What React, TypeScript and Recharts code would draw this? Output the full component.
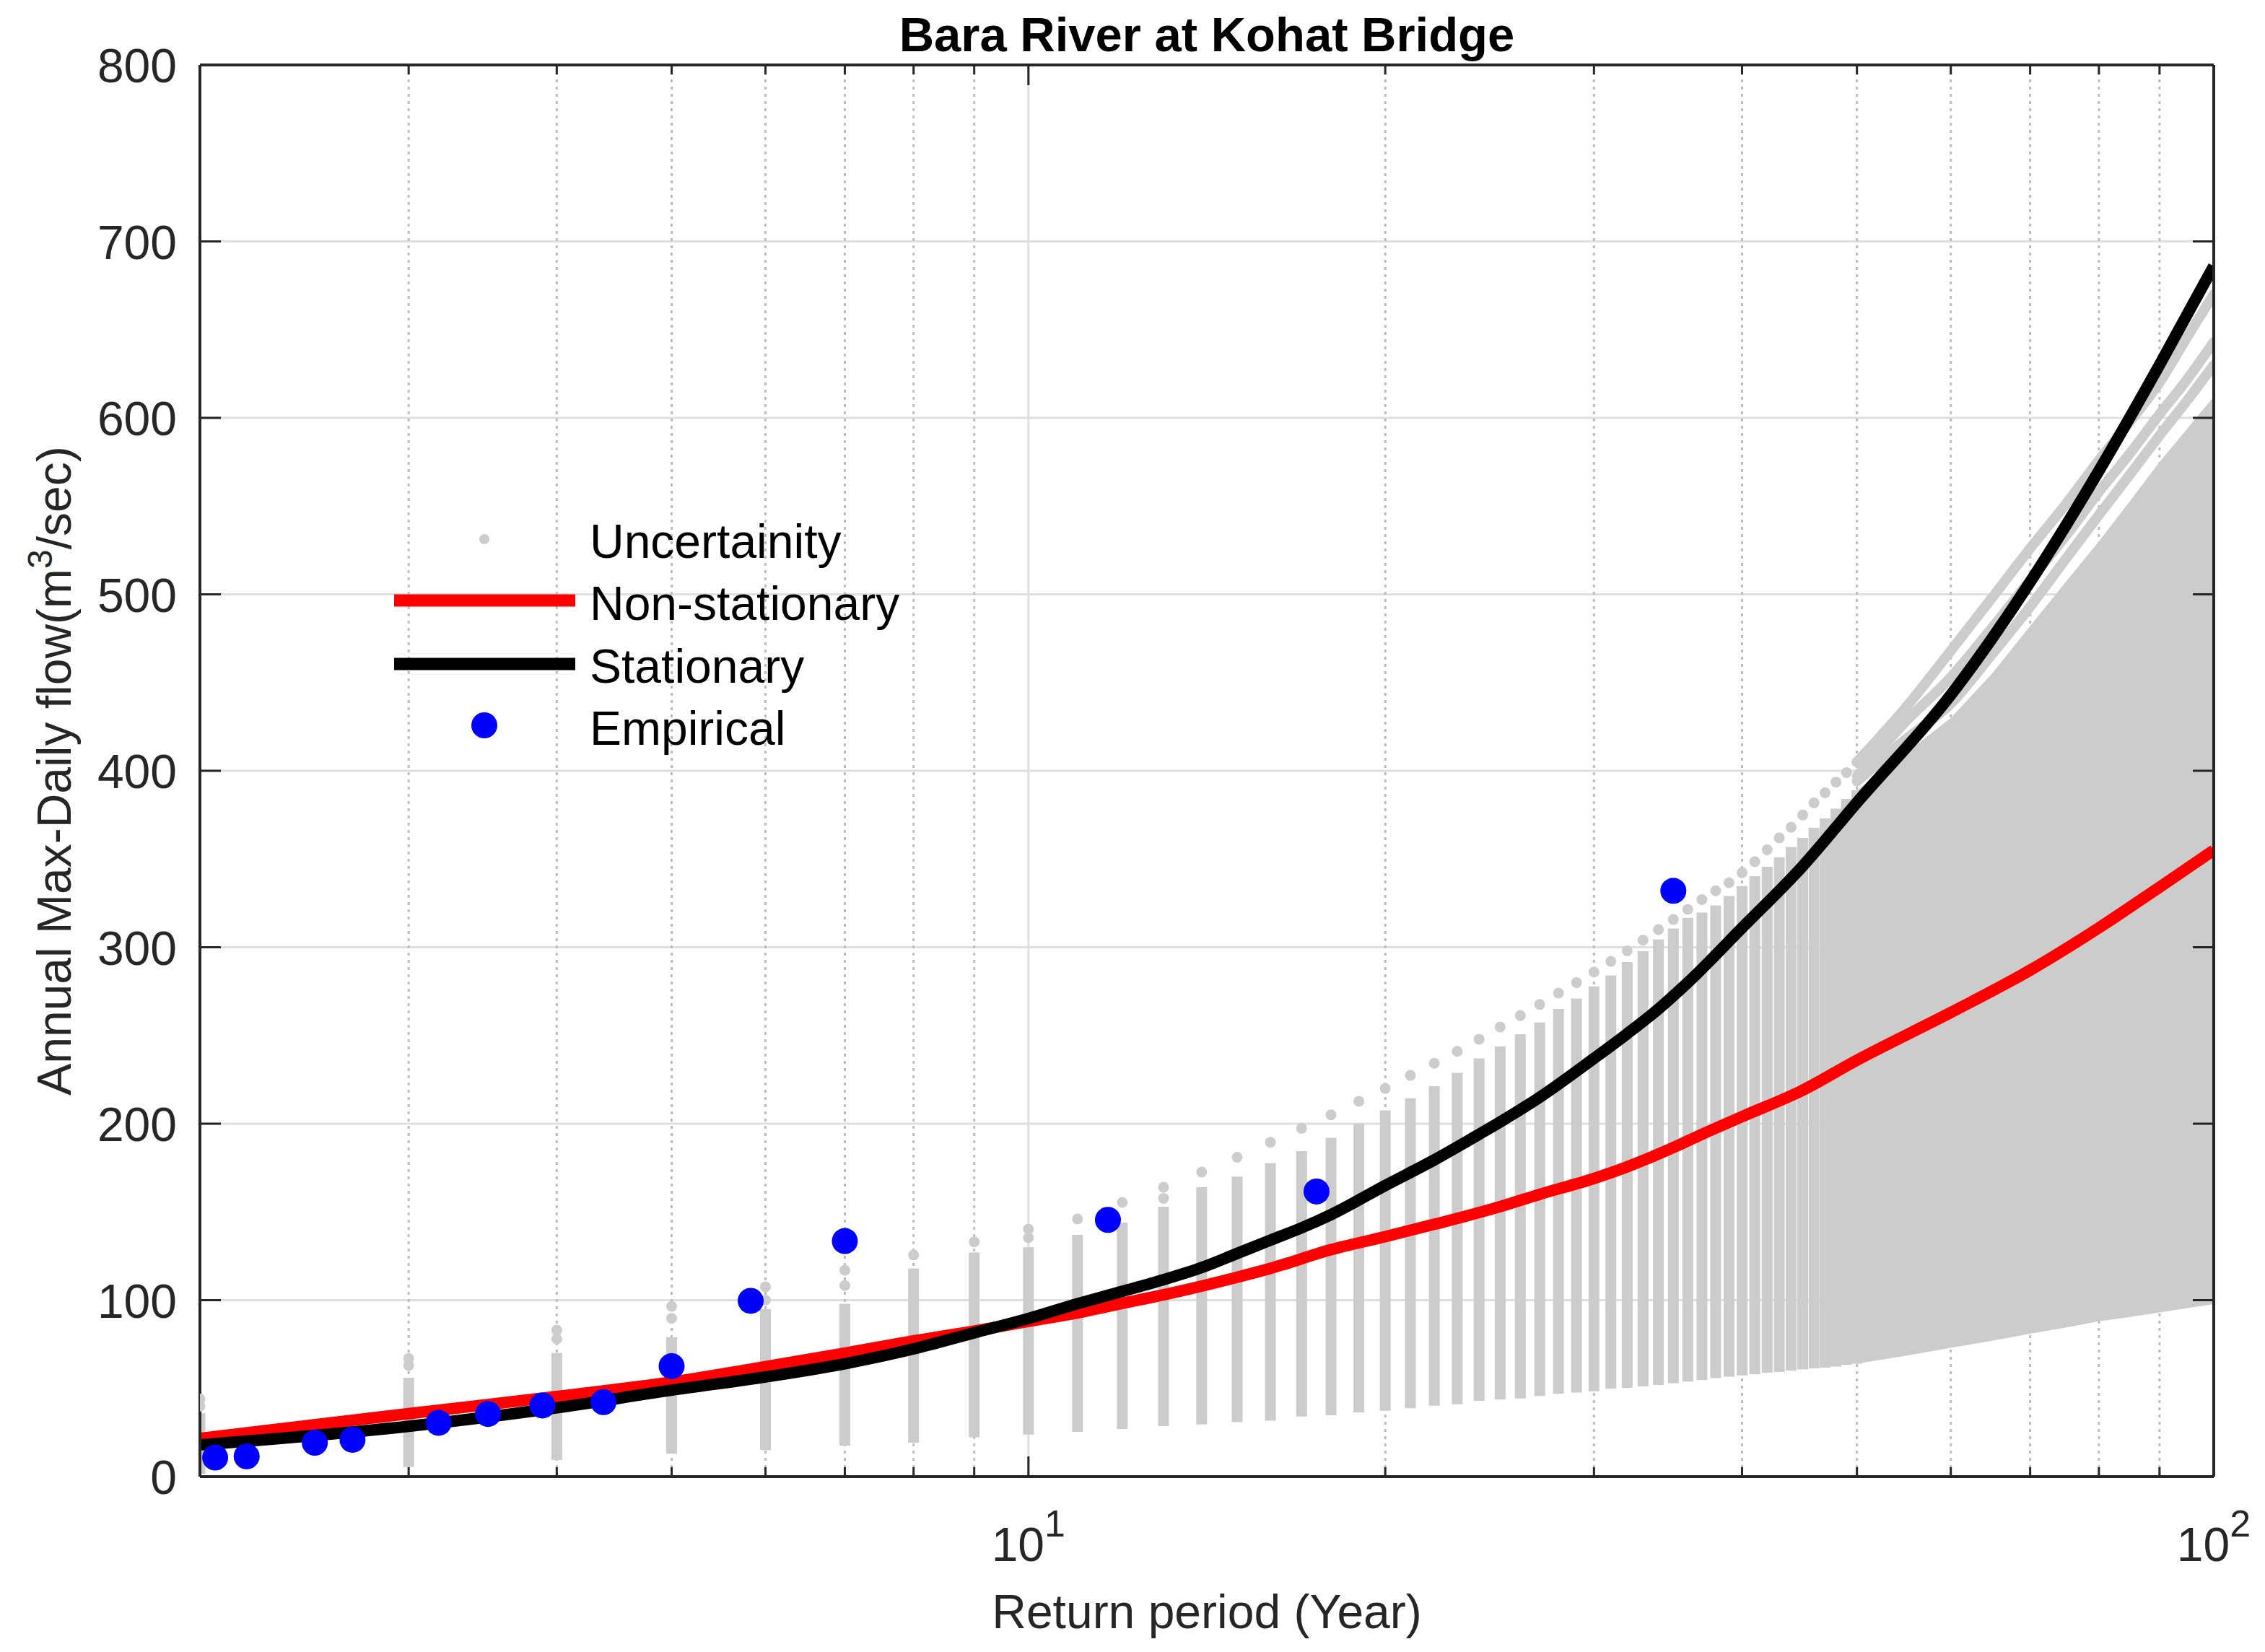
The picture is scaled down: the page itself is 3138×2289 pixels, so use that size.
import React from "react";
import {
  ComposedChart,
  Line,
  Area,
  Scatter,
  XAxis,
  YAxis,
  CartesianGrid,
  Legend,
  Label,
} from "recharts";

const W = 3138;
const H = 2289;
const GRAY = "#cccccc";
const RED = "#ff0000";
const BLACK = "#000000";
const BLUE = "#0000ff";
const AXIS = "#262626";
const FONT = '"Liberation Sans", Arial, Helvetica, sans-serif';

const X_TICKS = [3, 4, 5, 6, 7, 8, 9, 10, 20, 30, 40, 50, 60, 70, 80, 90, 100];
const MINOR_GRID = [3, 4, 5, 6, 7, 8, 9, 20, 30, 40, 50, 60, 70, 80, 90];
const MAJOR_GRID = [10];
const Y_TICKS = [0, 100, 200, 300, 400, 500, 600, 700, 800];

// bootstrap columns (return period, bottom, top of dense part, highest dot)
const COL_T = [
  2, 3, 4, 5, 6, 7, 8, 9, 10, 11, 12, 13, 14, 15, 16, 17, 18, 19, 20, 21, 22, 23, 24, 25, 26,
  27, 28, 29, 30, 31, 32, 33, 34, 35, 36, 37, 38, 39, 40, 41, 42, 43, 44, 45, 46, 47, 48, 49, 50,
];
const COL_LO = [
  1.5, 5.5, 9.4, 13, 15, 17.6, 19.2, 22.3, 23.8, 25.4, 27, 28.6, 29.5, 30.9, 31.7, 34, 34.8, 36.4,
  37.3, 38.8, 40.2, 41, 42.9, 43.8, 44.3, 45.7, 47, 47.6, 48.4, 49.9, 50.3, 51.1, 51.9, 53, 53.9,
  54.7, 55.8, 56.6, 57.4, 58, 58.9, 59.3, 60.1, 60.7, 61.3, 61.8, 62.4, 63.4, 64,
];
const COL_HI = [
  36, 56, 70, 79, 95, 98, 118, 127, 130, 137, 144, 153, 164, 170, 177.6, 184.5, 192, 200, 207.6,
  214.4, 221.3, 228.8, 237, 243.8, 250.7, 257.4, 265, 271, 277.8, 284, 291.6, 297.7, 304.4, 310.6,
  316.7, 319.6, 323.7, 329, 334.7, 340.3, 345.6, 351, 356.7, 362, 367.7, 373, 378.5, 384, 389,
];
const COL_TOP = [
  44, 67, 83, 96.5, 107.6, 117, 125.6, 133, 140.3, 146, 155.4, 164, 172.6, 181, 189.5, 197.4, 205,
  212.7, 220, 227.4, 234.3, 241, 247.9, 254.8, 261.3, 267.6, 274, 280, 286, 292, 298, 304, 310,
  315.7, 321.5, 327, 332, 336.6, 342.3, 348.5, 355.2, 362, 368, 375, 381.8, 387.5, 393.6, 399, 405,
];
const TOP2_T = [2, 3, 4, 5, 6, 7, 10, 13];
const TOP2_V = [40, 63, 78, 89.7, 100, 108.3, 135.4, 157.7];

// merged band for the long return periods
const BAND_T = [50, 55, 60, 65, 70, 75, 80, 85, 90, 95, 100];
const BAND_LO = [64, 68.5, 73, 77, 81, 84.5, 88, 90.5, 93, 95.5, 97.7];
const BAND_HI = [389, 410, 430, 455, 482, 507, 530, 553, 575, 594, 612];
const BAND_C3 = [394, 418, 438, 466, 493, 520, 545, 568, 590, 610, 630];
const BAND_C2 = [397, 428, 453, 481, 508, 533, 558, 580, 602, 622, 643];
const BAND_C1 = [405, 436, 468, 498, 526, 551, 576, 598, 620, 646, 670];

const STAT_T = [
  2, 3, 4, 5, 6, 7, 8, 9, 10, 11, 12, 13, 14, 15, 16, 17, 18, 20, 22, 24, 25, 27, 30, 32, 34, 36,
  40, 45, 50, 60, 70, 80, 90, 100,
];
const STAT_V = [
  18, 28.5, 39, 49, 56.5, 64, 72.4, 81.5, 89.6, 98, 105, 111.6, 118.5, 126.5, 134, 141, 148.5, 165,
  179.5, 194, 201, 215, 237, 251, 265, 280, 311, 346, 382, 443, 507, 570, 630, 686,
];
const NONSTAT_T = [
  2, 3, 4, 5, 6, 7, 8, 9, 10, 11, 12, 13, 15, 16, 18, 20, 22, 25, 27, 30, 32, 35, 37, 40, 45, 50,
  60, 70, 80, 90, 100,
];
const NONSTAT_V = [
  21.7, 35.7, 45.4, 53.6, 62.3, 70, 76.9, 82.5, 88, 92.8, 98.2, 103, 113, 118, 128.6, 136, 143, 153,
  160, 169, 175.6, 186.5, 194, 204, 219, 236, 263, 287, 311, 334, 355,
];
const EMP_T = [2.06, 2.19, 2.5, 2.69, 3.18, 3.5, 3.89, 4.38, 5, 5.83, 7, 11.67, 17.5, 35];
const EMP_V = [10.8, 11.5, 19.2, 20.9, 30.5, 35.5, 40.3, 42.2, 62.6, 99.6, 133.5, 145.5, 161.6, 332];

const topDots = COL_T.map((t, i) => ({ t, v: COL_TOP[i] }));
const top2Dots = TOP2_T.map((t, i) => ({ t, v: TOP2_V[i] }));
const bandData = BAND_T.map((t, i) => ({
  t,
  range: [BAND_LO[i], BAND_HI[i]],
  c1: BAND_C1[i],
  c2: BAND_C2[i],
  c3: BAND_C3[i],
}));
const statData = STAT_T.map((t, i) => ({ t, v: STAT_V[i] }));
const nonStatData = NONSTAT_T.map((t, i) => ({ t, v: NONSTAT_V[i] }));
const empData = EMP_T.map((t, i) => ({ t, v: EMP_V[i] }));

const scaleOf = (axis: any) => (v: number) => {
  const s = axis?.scale;
  if (typeof s === "function") return s(v);
  if (s && typeof s.map === "function") return s.map(v);
  return NaN;
};
const minorGen = ({ xAxis }: any) => MINOR_GRID.map(scaleOf(xAxis));
const majorGen = ({ xAxis }: any) => MAJOR_GRID.map(scaleOf(xAxis));

const isMajor = (v: number) => v === 10 || v === 100;

function BottomTick({ x, y, payload }: any) {
  const v = payload.value;
  return (
    <g>
      <line x1={x} y1={y} x2={x} y2={y - (isMajor(v) ? 28 : 13)} stroke={AXIS} strokeWidth={3} />
      {isMajor(v) && (
        <text x={x} y={y + 117} textAnchor="middle" fontSize={66} fill={AXIS} fontFamily={FONT}>
          10
          <tspan dy={-34} fontSize={52}>
            {v === 10 ? "1" : "2"}
          </tspan>
        </text>
      )}
    </g>
  );
}

function TopTick({ x, y, payload }: any) {
  const v = payload.value;
  return <line x1={x} y1={y} x2={x} y2={y + (isMajor(v) ? 28 : 13)} stroke={AXIS} strokeWidth={3} />;
}

function LeftTick({ x, y, payload }: any) {
  return (
    <g>
      <line x1={x} y1={y} x2={x + 29} y2={y} stroke={AXIS} strokeWidth={3} />
      <text x={x - 32} y={y + 24} textAnchor="end" fontSize={66} fill={AXIS} fontFamily={FONT}>
        {payload.value}
      </text>
    </g>
  );
}

function RightTick({ x, y }: any) {
  return <line x1={x} y1={y} x2={x - 29} y2={y} stroke={AXIS} strokeWidth={3} />;
}

const GrayDot = (p: any) => <circle cx={p.cx} cy={p.cy} r={7.5} fill={GRAY} />;
const BlueDot = (p: any) => <circle cx={p.cx} cy={p.cy} r={18} fill={BLUE} />;

function LegendBox() {
  const t = { fontFamily: FONT, fontSize: 66, fill: "#000000" };
  return (
    <svg width={760} height={400} style={{ display: "block" }}>
      <circle cx={131} cy={57} r={7} fill={GRAY} />
      <text x={277} y={83} {...t}>Uncertainity</text>
      <line x1={6} y1={142} x2={257} y2={142} stroke={RED} strokeWidth={17} />
      <text x={277} y={169} {...t}>Non-stationary</text>
      <line x1={6} y1={230} x2={257} y2={230} stroke={BLACK} strokeWidth={17} />
      <text x={277} y={256} {...t}>Stationary</text>
      <circle cx={131} cy={315} r={18} fill={BLUE} />
      <text x={277} y={342} {...t}>Empirical</text>
    </svg>
  );
}

// y-axis title and chart title, drawn in the left axis label slot
const AxisTitles = () => (
  <g>
    <text
      x={98}
      y={1068}
      transform="rotate(-90, 98, 1068)"
      textAnchor="middle"
      fontSize={66}
      fill={AXIS}
      fontFamily={FONT}
    >
      Annual Max-Daily flow(m
      <tspan dy={-26} fontSize={48}>
        3
      </tspan>
      <tspan dy={26}>/sec)</tspan>
    </text>
    <text
      x={1672}
      y={71}
      textAnchor="middle"
      fontSize={67}
      fontWeight="bold"
      fill="#000000"
      fontFamily={FONT}
    >
      Bara River at Kohat Bridge
    </text>
  </g>
);

export default function App() {
  return (
    <div style={{ width: W, height: H, background: "#fff" }}>
      <style>{"html,body{margin:0;padding:0;background:#fff}"}</style>
      <ComposedChart width={W} height={H} margin={{ top: 89, right: 70, bottom: 93, left: 0 }}>
        <CartesianGrid vertical={false} stroke="#dfdfdf" strokeWidth={3} />
        <CartesianGrid
          horizontal={false}
          stroke="#bdbdbd"
          strokeWidth={3}
          strokeDasharray="4 6"
          verticalCoordinatesGenerator={minorGen}
        />
        <CartesianGrid
          horizontal={false}
          stroke="#dfdfdf"
          strokeWidth={3}
          verticalCoordinatesGenerator={majorGen}
        />

        <Area
          data={bandData}
          dataKey="range"
          type="linear"
          fill={GRAY}
          fillOpacity={1}
          stroke="none"
          legendType="none"
          isAnimationActive={false}
        />
        {COL_T.map((t, i) => (
          <Line
            key={`col-${t}`}
            data={[
              { t, v: COL_LO[i] },
              { t, v: COL_HI[i] },
            ]}
            dataKey="v"
            stroke={GRAY}
            strokeWidth={15}
            strokeLinecap="butt"
            dot={false}
            activeDot={false}
            legendType="none"
            isAnimationActive={false}
          />
        ))}
        {["c3", "c2", "c1"].map((k) => (
          <Line
            key={k}
            data={bandData}
            dataKey={k}
            type="monotone"
            stroke={GRAY}
            strokeWidth={14}
            strokeLinecap="round"
            dot={false}
            activeDot={false}
            legendType="none"
            isAnimationActive={false}
          />
        ))}
        <Scatter data={topDots} dataKey="v" shape={GrayDot} legendType="none" isAnimationActive={false} />
        <Scatter data={top2Dots} dataKey="v" shape={GrayDot} legendType="none" isAnimationActive={false} />

        <Line
          data={nonStatData}
          dataKey="v"
          type="monotone"
          stroke={RED}
          strokeWidth={16}
          dot={false}
          activeDot={false}
          name="Non-stationary"
          isAnimationActive={false}
        />
        <Line
          data={statData}
          dataKey="v"
          type="monotone"
          stroke={BLACK}
          strokeWidth={16}
          dot={false}
          activeDot={false}
          name="Stationary"
          isAnimationActive={false}
        />
        <Scatter data={empData} dataKey="v" shape={BlueDot} name="Empirical" isAnimationActive={false} />

        <XAxis
          dataKey="t"
          type="number"
          scale="log"
          domain={[2, 100]}
          allowDataOverflow
          ticks={X_TICKS}
          interval={0}
          height={150}
          tickSize={0}
          tickMargin={0}
          tickLine={false}
          tick={<BottomTick />}
          axisLine={{ stroke: AXIS, strokeWidth: 4 }}
        >
          <Label
            content={() => (
              <text x={1672} y={2256} textAnchor="middle" fontSize={66} fill={AXIS} fontFamily={FONT}>
                Return period (Year)
              </text>
            )}
          />
        </XAxis>
        <XAxis
          xAxisId="top"
          orientation="top"
          dataKey="t"
          type="number"
          scale="log"
          domain={[2, 100]}
          allowDataOverflow
          ticks={X_TICKS}
          interval={0}
          height={1}
          tickSize={0}
          tickMargin={0}
          tickLine={false}
          tick={<TopTick />}
          axisLine={{ stroke: AXIS, strokeWidth: 4 }}
        />
        <YAxis
          type="number"
          domain={[0, 800]}
          allowDataOverflow
          ticks={Y_TICKS}
          interval={0}
          width={277}
          tickSize={0}
          tickMargin={0}
          tickLine={false}
          tick={<LeftTick />}
          axisLine={{ stroke: AXIS, strokeWidth: 4 }}
        >
          <Label content={AxisTitles} />
        </YAxis>
        <YAxis
          yAxisId="right"
          orientation="right"
          type="number"
          domain={[0, 800]}
          allowDataOverflow
          ticks={Y_TICKS}
          interval={0}
          width={1}
          tickSize={0}
          tickMargin={0}
          tickLine={false}
          tick={<RightTick />}
          axisLine={{ stroke: AXIS, strokeWidth: 4 }}
        />
        <Legend
          content={LegendBox}
          layout="horizontal"
          verticalAlign="middle"
          align="center"
          wrapperStyle={{ left: 540, top: 690, width: 760, height: 400 }}
        />
      </ComposedChart>
    </div>
  );
}
